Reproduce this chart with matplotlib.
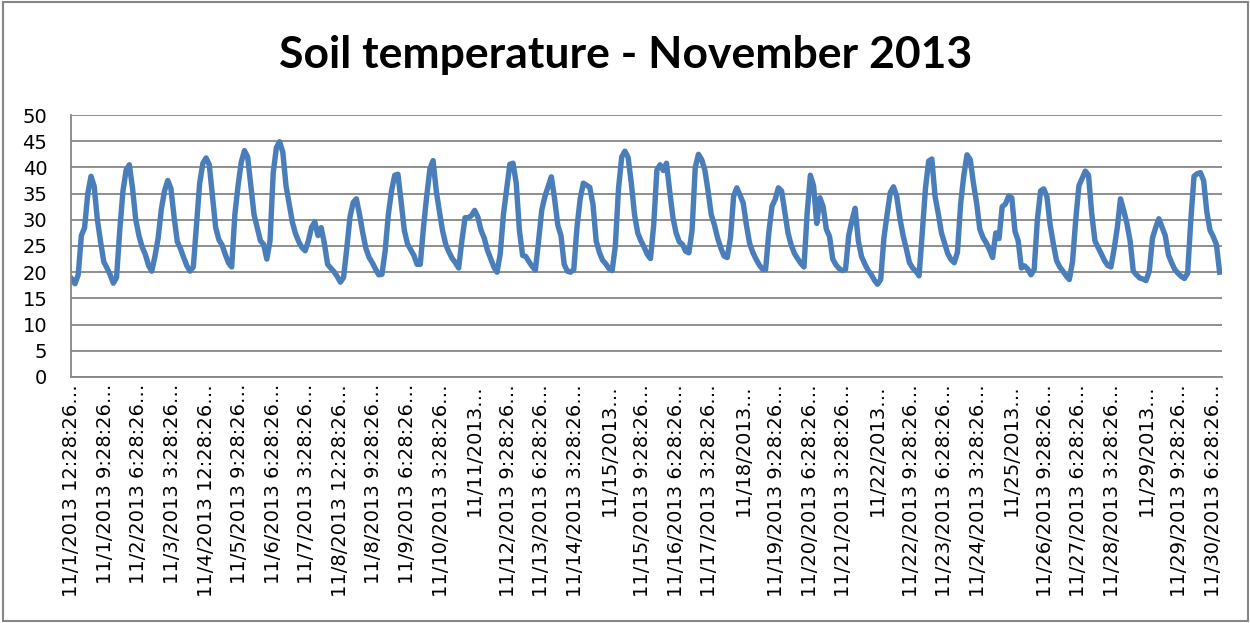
import matplotlib
matplotlib.use('Agg')
import matplotlib.pyplot as plt
from matplotlib.patches import Rectangle
import numpy as np

# Soil temperature, November 2013 - one value every 2 hours
nov01_05 = [18.7, 17.8, 19.5, 27.0, 28.5, 35.0, 38.3, 36.4, 30.0, 25.8, 22.0, 20.8,
            19.5, 17.9, 19.0, 28.0, 35.5, 39.5, 40.5, 36.0, 30.0, 27.0, 24.8, 23.4,
            21.3, 20.2, 23.0, 26.5, 32.0, 35.5, 37.5, 36.0, 30.5, 25.8, 24.5, 22.8,
            21.2, 20.2, 21.0, 29.0, 37.0, 40.8, 41.8, 40.5, 34.5, 28.5, 26.2, 25.2,
            23.4, 21.8, 21.0, 31.0, 36.5, 41.0, 43.2, 42.0, 36.5, 31.0, 28.5, 26.0]
nov06_10 = [25.3, 22.5, 26.0, 39.0, 43.8, 44.9, 42.9, 36.5, 33.0, 29.5, 27.3, 25.8,
            24.7, 24.1, 26.0, 28.6, 29.6, 27.0, 28.5, 25.5, 21.5, 20.8, 20.1, 19.2,
            18.1, 19.0, 24.5, 30.5, 33.3, 34.0, 31.0, 27.5, 24.5, 22.8, 21.8, 20.6,
            19.5, 19.6, 24.0, 31.0, 35.5, 38.5, 38.7, 33.5, 28.0, 25.4, 24.3, 23.2,
            21.5, 21.5, 28.6, 34.5, 39.7, 41.3, 35.5, 31.5, 27.8, 25.2, 23.8, 22.6]
nov11_15 = [21.8, 20.8, 26.0, 30.4, 30.4, 30.8, 31.8, 30.5, 28.0, 26.5, 24.2, 22.6,
            21.0, 20.0, 23.5, 31.0, 35.8, 40.6, 40.8, 37.0, 28.0, 23.2, 23.0, 22.0,
            21.1, 20.4, 26.0, 31.9, 34.5, 36.4, 38.2, 34.0, 29.0, 27.0, 21.5, 20.2,
            20.0, 20.5, 28.5, 34.0, 37.0, 36.6, 36.2, 33.0, 26.0, 23.8, 22.3, 21.6,
            20.7, 20.3, 25.0, 36.0, 42.0, 43.1, 41.9, 37.0, 31.0, 27.5, 26.0, 24.8]
nov16_20 = [23.4, 22.6, 29.0, 39.5, 40.5, 39.4, 40.8, 35.5, 30.5, 27.5, 25.8, 25.3,
            24.0, 23.7, 28.0, 40.0, 42.5, 41.5, 39.5, 35.5, 31.0, 29.0, 26.5, 24.6,
            23.1, 22.8, 26.5, 34.5, 36.1, 34.7, 33.2, 29.0, 25.5, 23.8, 22.5, 21.4,
            20.6, 20.5, 27.5, 32.6, 33.9, 36.1, 35.5, 31.5, 27.5, 25.2, 23.6, 22.6,
            21.7, 21.0, 31.3, 38.5, 36.5, 29.3, 34.2, 32.5, 28.2, 26.8, 22.5, 21.4]
nov21_25 = [20.7, 20.3, 20.5, 27.0, 29.9, 32.2, 26.0, 23.0, 21.6, 20.4, 19.6, 18.5,
            17.7, 18.6, 26.5, 31.0, 35.2, 36.3, 34.5, 30.3, 27.0, 24.5, 21.8, 20.8,
            20.2, 19.3, 27.5, 36.0, 41.2, 41.6, 34.5, 31.2, 27.5, 25.5, 23.5, 22.4,
            21.8, 23.8, 33.0, 38.5, 42.4, 41.5, 37.0, 33.2, 28.2, 26.6, 25.6, 24.3,
            22.8, 27.5, 26.4, 32.5, 33.0, 34.5, 34.2, 27.8, 26.0, 20.8, 21.2, 20.6]
nov26_30 = [19.5, 20.5, 30.0, 35.5, 35.9, 34.4, 29.0, 25.4, 22.2, 21.0, 20.2, 19.3,
            18.6, 22.0, 30.0, 36.5, 37.9, 39.3, 38.5, 31.2, 26.0, 24.7, 23.5, 22.2,
            21.3, 21.0, 24.4, 28.5, 34.0, 31.8, 29.3, 26.0, 20.2, 19.5, 18.9, 18.7,
            18.4, 20.2, 26.5, 28.5, 30.2, 28.6, 27.0, 23.3, 21.8, 20.5, 19.8, 19.2,
            18.8, 19.8, 30.0, 38.3, 38.8, 39.0, 37.5, 31.5, 28.0, 26.8, 25.3, 20.0]

temps = nov01_05 + nov06_10 + nov11_15 + nov16_20 + nov21_25 + nov26_30
hours = np.arange(len(temps)) * 2  # hours since 11/1/2013 12:28:26 AM

# category labels shown by Excel (every 21 hours)
tick_labels = ['11/1/2013 12:28:26…', '11/1/2013 9:28:26…', '11/2/2013 6:28:26…',
               '11/3/2013 3:28:26…', '11/4/2013 12:28:26…', '11/5/2013 9:28:26…',
               '11/6/2013 6:28:26…', '11/7/2013 3:28:26…', '11/8/2013 12:28:26…',
               '11/8/2013 9:28:26…', '11/9/2013 6:28:26…', '11/10/2013 3:28:26…',
               '11/11/2013…', '11/12/2013 9:28:26…', '11/13/2013 6:28:26…',
               '11/14/2013 3:28:26…', '11/15/2013…', '11/15/2013 9:28:26…',
               '11/16/2013 6:28:26…', '11/17/2013 3:28:26…', '11/18/2013…',
               '11/19/2013 9:28:26…', '11/20/2013 6:28:26…', '11/21/2013 3:28:26…',
               '11/22/2013…', '11/22/2013 9:28:26…', '11/23/2013 6:28:26…',
               '11/24/2013 3:28:26…', '11/25/2013…', '11/26/2013 9:28:26…',
               '11/27/2013 6:28:26…', '11/28/2013 3:28:26…', '11/29/2013…',
               '11/29/2013 9:28:26…', '11/30/2013 6:28:26…']
tick_hours = np.arange(len(tick_labels)) * 21

grid_col = '#868686'

fig = plt.figure(figsize=(12.5, 6.23), dpi=100)
ax = fig.add_axes([0.0568, 0.3949, 0.9208, 0.4205])

ax.plot(hours, temps, color='#4A7EBB', linewidth=3.9, solid_joinstyle='round')

ax.set_xlim(-0.5, 719.5)
ax.set_ylim(0, 50)
ax.set_yticks(np.arange(0, 51, 5))
ax.set_xticks(tick_hours)
ax.set_xticklabels(tick_labels, rotation=90, fontsize=14)
ax.tick_params(axis='y', labelsize=14, length=0, pad=17)
ax.tick_params(axis='x', length=0, pad=5)

ax.grid(axis='y', color=grid_col, linewidth=1.3)
ax.set_axisbelow(True)
for side in ['top', 'right']:
    ax.spines[side].set_visible(False)
for side in ['left', 'bottom']:
    ax.spines[side].set_color(grid_col)
    ax.spines[side].set_linewidth(1.3)

fig.text(0.5004, 1 - 55 / 623, 'Soil temperature - November 2013',
         ha='center', va='center', fontsize=32, fontweight='bold', family='Lato')

# chart area border
fig.patches.append(Rectangle((0.0024, 0.003), 0.9960, 0.994, transform=fig.transFigure,
                             fill=False, edgecolor=grid_col, linewidth=1.5))

plt.savefig('out.png', dpi=100)
